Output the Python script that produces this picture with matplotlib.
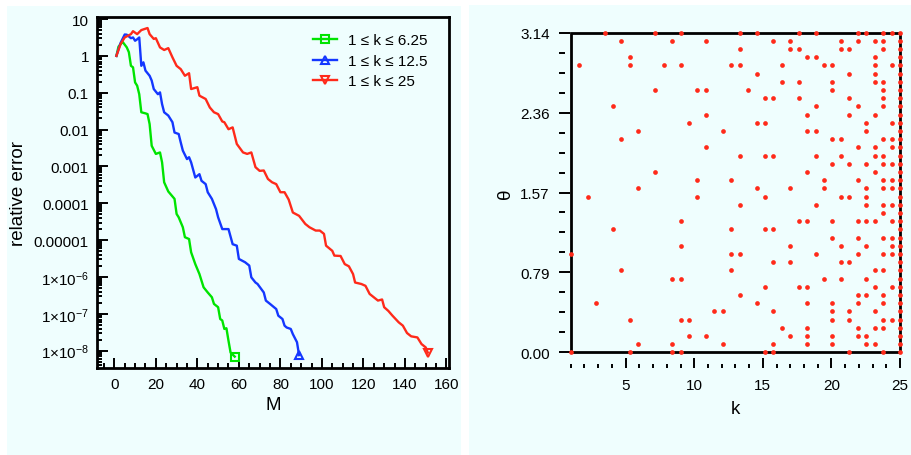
import numpy as np
import matplotlib
matplotlib.use("Agg")
import matplotlib.pyplot as plt
from matplotlib.patches import Rectangle
from matplotlib.lines import Line2D
from matplotlib.ticker import FixedLocator, MultipleLocator, LogLocator, NullFormatter

plt.rcParams["font.family"] = ["Liberation Sans", "DejaVu Sans"]
plt.rcParams["mathtext.fontset"] = "custom"
plt.rcParams["mathtext.rm"] = "Liberation Sans"
plt.rcParams["mathtext.it"] = "Liberation Sans:italic"

# ---- left panel: relative error vs M (log10 of error)
green_M = [1, 2, 4, 6, 7, 8, 9, 10, 11, 12, 13, 15, 16, 17, 18, 20, 22, 23, 24, 26,
           29, 30, 31, 33, 34, 36, 37, 39, 41, 43, 45, 47, 48, 50, 51, 52, 53, 54,
           55, 56, 58]
green_log = [0.0, 0.25, 0.38, 0.23, 0.10, -0.27, -0.31, -0.72, -0.81, -1.04, -1.53,
             -1.56, -1.58, -1.85, -2.44, -2.66, -2.62, -2.89, -3.43, -3.68, -3.88,
             -4.29, -4.38, -4.65, -4.92, -4.97, -5.33, -5.65, -5.92, -6.28, -6.42,
             -6.55, -6.73, -6.82, -7.14, -7.18, -7.41, -7.39, -7.73, -8.05, -8.16]

blue_M = [1, 3, 5, 6, 8, 9, 10, 11, 12, 13, 14, 15, 17, 18, 19, 21, 22, 23, 24, 26,
          28, 29, 31, 32, 33, 35, 36, 37, 39, 41, 42, 44, 45, 47, 49, 50, 52, 55, 57,
          59, 60, 63, 65, 66, 68, 69, 72, 73, 75, 78, 79, 81, 82, 83, 85, 86, 88, 89]
blue_log = [0.0, 0.35, 0.58, 0.575, 0.48, 0.50, 0.41, 0.45, 0.50, -0.27, -0.175,
            -0.40, -0.54, -0.67, -0.90, -1.04, -0.99, -1.31, -1.53, -1.62, -1.80,
            -2.08, -2.12, -2.35, -2.57, -2.80, -2.75, -2.89, -3.30, -3.21, -3.39,
            -3.48, -3.70, -3.88, -4.16, -4.38, -4.70, -4.70, -5.11, -5.15, -5.51,
            -5.60, -5.69, -6.01, -6.15, -6.19, -6.42, -6.64, -6.73, -6.87, -7.05,
            -7.14, -7.32, -7.37, -7.41, -7.55, -7.77, -8.12]

red_M = [1, 3, 5, 8, 9, 11, 13, 16, 17, 19, 20, 22, 24, 26, 28, 30, 32, 34, 36, 37,
         40, 41, 44, 46, 48, 50, 52, 53, 55, 57, 59, 62, 64, 66, 68, 70, 72, 74, 76,
         78, 80, 82, 84, 86, 89, 92, 94, 97, 99, 101, 102, 105, 106, 109, 111, 113,
         115, 116, 119, 121, 123, 125, 127, 129, 130, 132, 134, 137, 139, 141, 143,
         146, 148, 150, 151]
red_log = [0.0, 0.32, 0.50, 0.59, 0.67, 0.59, 0.70, 0.756, 0.59, 0.46, 0.48, 0.23,
           0.16, 0.21, -0.04, -0.27, -0.36, -0.54, -0.47, -0.90, -0.85, -1.08, -1.17,
           -1.40, -1.53, -1.58, -1.78, -1.80, -1.99, -1.94, -2.39, -2.62, -2.66,
           -2.62, -3.02, -3.12, -3.11, -3.34, -3.43, -3.48, -3.70, -3.70, -3.90,
           -4.25, -4.34, -4.56, -4.65, -4.74, -4.74, -4.83, -5.15, -5.29, -5.42,
           -5.43, -5.65, -5.71, -5.92, -6.15, -6.19, -6.24, -6.46, -6.55, -6.64,
           -6.61, -6.82, -6.92, -7.05, -7.23, -7.32, -7.52, -7.61, -7.64, -7.82,
           -7.91, -8.05]

series_labels = ["1 \u2264 k \u2264 6.25", "1 \u2264 k \u2264 12.5", "1 \u2264 k \u2264 25"]
ytick_labels = [r"1$\times$10$^{-8}$", r"1$\times$10$^{-7}$", r"1$\times$10$^{-6}$",
                "0.00001", "0.0001", "0.001", "0.01", "0.1", "1", "10"]

# ---- right panel: selected (k, theta) points on a 40 x 40 grid
k_grid = np.linspace(1, 25, 40)
theta_grid = np.linspace(0, np.pi, 40)
# theta index -> list of k indices
selected = {
    39: [4, 10, 13, 20, 22, 27, 29, 34, 35, 37, 38, 39],
    38: [6, 12, 16, 24, 26, 32, 34, 36, 37, 39],
    37: [20, 26, 27, 32, 33, 37, 39],
    36: [7, 28, 29, 36, 39],
    35: [1, 7, 11, 13, 19, 20, 25, 30, 31, 36, 38, 39],
    34: [22, 33, 36, 39],
    33: [25, 27, 31, 36, 37, 39],
    32: [10, 15, 16, 21, 31, 37, 39],
    31: [23, 24, 27, 33, 37, 39],
    30: [5, 29, 34, 37, 39],
    29: [16, 28, 33, 36, 39],
    28: [14, 22, 23, 35, 38, 39],
    27: [8, 18, 28, 29, 35, 39],
    26: [6, 31, 32, 37, 38, 39],
    25: [16, 34, 36, 38, 39],
    24: [20, 23, 24, 29, 32, 36, 37, 39],
    23: [31, 33, 35, 37, 38, 39],
    22: [10, 28, 36, 39],
    21: [15, 19, 30, 34, 37, 38, 39],
    20: [8, 22, 26, 30, 35, 37, 38, 39],
    19: [2, 15, 23, 32, 33, 35, 39],
    18: [20, 29, 35, 37, 38, 39],
    17: [37, 39],
    16: [13, 27, 28, 31, 34, 35, 36, 38, 39],
    15: [5, 19, 23, 24, 39],
    14: [31, 34, 37, 38, 39],
    13: [13, 26, 32, 35, 38, 39],
    12: [0, 19, 20, 29, 34, 37, 38, 39],
    11: [24, 26, 32, 33, 39],
    10: [6, 19, 36, 37, 39],
    9: [12, 13, 30, 32, 35, 39],
    8: [23, 27, 28, 36, 38, 39],
    7: [20, 34, 35, 37, 39],
    6: [3, 22, 28, 31, 34, 37, 39],
    5: [17, 18, 24, 31, 33, 36, 39],
    4: [7, 13, 14, 31, 33, 37, 38, 39],
    3: [25, 28, 34, 36, 37, 39],
    2: [14, 16, 26, 28, 31, 34, 35, 39],
    1: [8, 12, 18, 24, 28, 31, 35, 36, 39],
    0: [0, 7, 12, 13, 23, 24, 33, 37, 39],
}
theta_ticks = [0.0, np.pi / 4, np.pi / 2, 3 * np.pi / 4, np.pi]
theta_labels = ["0.00", "0.79", "1.57", "2.36", "3.14"]

bg = "#effefe"
c_green = "#00e400"
c_blue = "#1437ff"
c_red = "#ff2a1a"

fig = plt.figure(figsize=(9.12, 4.56), dpi=100)
fig.patch.set_facecolor("white")
fig.patches.append(Rectangle((7 / 912, 0), 454 / 912, 449 / 456, transform=fig.transFigure,
                             facecolor=bg, edgecolor="none", zorder=-10))
fig.patches.append(Rectangle((469 / 912, 0), 443 / 912, 450 / 456, transform=fig.transFigure,
                             facecolor=bg, edgecolor="none", zorder=-10))

# ---------------- left
ax1 = fig.add_axes([0.1067, 0.1901, 0.3851, 0.7697])
ax1.set_facecolor(bg)
ax1.set_yscale("log")
for M, lg, col, mk in [(green_M, green_log, c_green, "s"),
                       (blue_M, blue_log, c_blue, "^"),
                       (red_M, red_log, c_red, "v")]:
    err = 10.0 ** np.array(lg)
    ax1.plot(M, err, color=col, lw=1.7, zorder=3)
    ax1.plot(M[-1], err[-1], marker=mk, ms=6, mfc="none", mec=col, mew=1.5,
             ls="none", zorder=4, clip_on=False)

ax1.set_xlim(-8.2, 161)
ax1.set_ylim(10 ** -8.478, 10 ** 1.046)
ax1.xaxis.set_major_locator(MultipleLocator(20))
ax1.xaxis.set_minor_locator(MultipleLocator(5))
ax1.yaxis.set_major_locator(FixedLocator(10.0 ** np.arange(-8, 2)))
ax1.set_yticklabels(ytick_labels)
ax1.yaxis.set_minor_locator(LogLocator(base=10, subs=np.arange(2, 10), numticks=50))
ax1.yaxis.set_minor_formatter(NullFormatter())
ax1.tick_params(which="both", direction="in", top=False, right=False, width=1.4,
                labelsize=11)
ax1.tick_params(axis="x", which="major", length=7.5, pad=6)
ax1.tick_params(axis="x", which="minor", length=3.6)
ax1.tick_params(axis="y", which="major", length=8, pad=6)
ax1.tick_params(axis="y", which="minor", length=3.6)
for s in ax1.spines.values():
    s.set_linewidth(2)
ax1.set_xlabel("M", fontsize=13.5)
ax1.xaxis.set_label_coords(0.5, -0.08)
ax1.set_ylabel("relative error", fontsize=13.5)
ax1.yaxis.set_label_coords(-0.20, 0.5)

handles = [Line2D([], [], color=c, lw=1.7, marker=m, ms=6, mfc="none", mec=c, mew=1.5)
           for c, m in [(c_green, "s"), (c_blue, "^"), (c_red, "v")]]
ax1.legend(handles, series_labels, loc="upper left", bbox_to_anchor=(0.614, 0.954),
           frameon=False, fontsize=11, borderpad=0, borderaxespad=0,
           handlelength=1.6, handletextpad=0.7, labelspacing=0.42, numpoints=1)

# ---------------- right
ax2 = fig.add_axes([0.6258, 0.2252, 0.3611, 0.7009])
ax2.set_facecolor(bg)
ks, ths = [], []
for j, idx in selected.items():
    for i in idx:
        ks.append(k_grid[i])
        ths.append(theta_grid[j])
ax2.plot(ks, ths, "o", color=c_red, ms=3.4, mec="none", zorder=4, clip_on=False)
ax2.set_xlim(1, 25)
ax2.set_ylim(0, np.pi)
for s in ax2.spines.values():
    s.set_visible(False)
ax2.spines["bottom"].set_position(("outward", 11.3))
ax2.spines["left"].set_position(("outward", 8.2))
ax2.add_patch(Rectangle((0, 0), 1, 1, transform=ax2.transAxes, fill=False,
                        edgecolor="black", lw=2, zorder=3, clip_on=False))
ax2.xaxis.set_major_locator(FixedLocator([5, 10, 15, 20, 25]))
ax2.xaxis.set_minor_locator(MultipleLocator(1))
ax2.yaxis.set_major_locator(FixedLocator(theta_ticks))
ax2.set_yticklabels(theta_labels)
ax2.yaxis.set_minor_locator(MultipleLocator(np.pi / 16))
ax2.tick_params(which="both", direction="in", top=False, right=False, width=1.4,
                labelsize=11)
ax2.tick_params(axis="x", which="major", length=7.2, pad=7)
ax2.tick_params(axis="x", which="minor", length=3.1)
ax2.tick_params(axis="y", which="major", length=8.2, pad=7)
ax2.tick_params(axis="y", which="minor", length=4.1)
ax2.set_xlabel("k", fontsize=13.5)
ax2.xaxis.set_label_coords(0.5, -0.149)
ax2.set_ylabel("\u03b8", fontsize=13.5)
ax2.yaxis.set_label_coords(-0.172, 0.5)

fig.savefig("out.png", dpi=100)
